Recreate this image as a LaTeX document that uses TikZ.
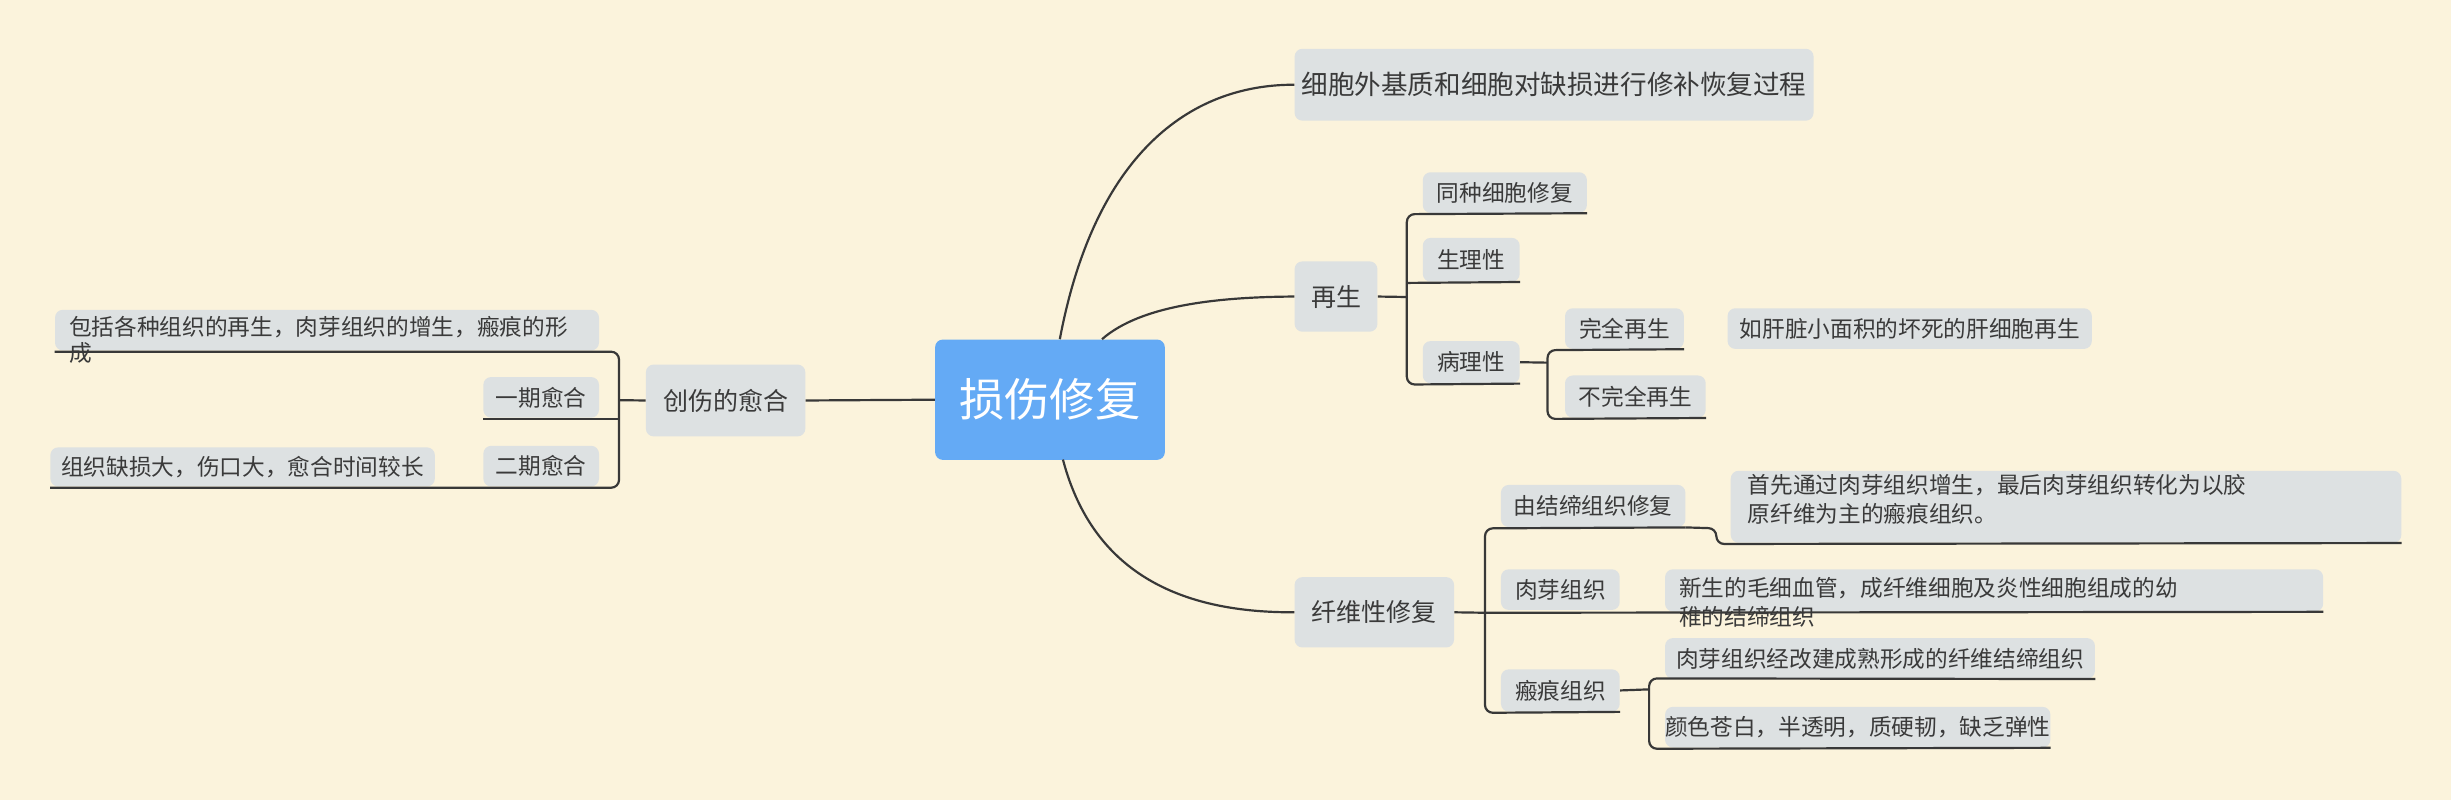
\documentclass[tikz,border=0pt]{standalone}
\usepackage{fontspec}
\setmainfont{Noto Sans CJK SC}
\begin{document}
\begin{tikzpicture}[x=1pt,y=-1pt,
  box/.style={fill=boxgray,rounded corners=5pt,anchor=north west,inner sep=0pt,text=txt,font=\fontsize{14.5}{17}\selectfont},
  ln/.style={draw=lncol,line width=1.4pt,rounded corners=5pt}]
\definecolor{bg}{HTML}{FBF3DC}
\definecolor{boxgray}{HTML}{DDE1E2}
\definecolor{txt}{HTML}{3A3A3A}
\definecolor{lncol}{HTML}{383838}
\definecolor{rootblue}{HTML}{64AAF5}
\fill[bg] (0,0) rectangle (1568,512);
\useasboundingbox (0,0) rectangle (1568,512);
% root
\node[fill=rootblue,rounded corners=5pt,anchor=north west,minimum width=147pt,minimum height=77pt,text=white,font=\fontsize{29}{32}\selectfont] (root) at (598,217) {损伤修复};
% level 1
\node[box,minimum width=332pt,minimum height=46pt,font=\fontsize{17}{20}\selectfont] (top) at (828,31) {细胞外基质和细胞对缺损进行修补恢复过程};
\node[box,minimum width=53pt,minimum height=45pt,font=\fontsize{16}{19}\selectfont] (zs) at (828,167) {再生};
\node[box,minimum width=102pt,minimum height=45pt,font=\fontsize{16}{19}\selectfont] (xw) at (828,369) {纤维性修复};
\node[box,minimum width=102pt,minimum height=46pt,font=\fontsize{16}{19}\selectfont] (cs) at (413,233) {创伤的愈合};
\draw[lncol,line width=1.4pt] (678,217) .. controls (700,100) and (760,54) .. (top.west);
\draw[lncol,line width=1.4pt] (705,217) .. controls (730,195) and (780,190) .. (zs.west);
\draw[lncol,line width=1.4pt] (680,294) .. controls (700,370) and (760,392) .. (xw.west);
\draw[lncol,line width=1.4pt] (root.west) -- (cs.east);
% 再生 children
\node[box,minimum width=105pt,minimum height=26pt] (tz) at (910,110) {同种细胞修复};
\node[box,minimum width=62pt,minimum height=28pt] (sl) at (910,152) {生理性};
\node[box,minimum width=62pt,minimum height=27pt] (bl) at (910,218) {病理性};
\draw[ln] (zs.east) -- (900,190);
\draw[ln] (tz.south east) -- (900,137) -- (900,246) -- (bl.south east);
\draw[ln] (900,181) -- (sl.south east);
\node[box,minimum width=76pt,minimum height=26pt] (wq) at (1001,197) {完全再生};
\node[box,minimum width=233pt,minimum height=26pt] (rg) at (1105,197) {如肝脏小面积的坏死的肝细胞再生};
\node[box,minimum width=90pt,minimum height=27pt] (bwq) at (1001,240) {不完全再生};
\draw[ln] (bl.east) -- (990,232);
\draw[ln] (wq.south east) -- (990,224) -- (990,268) -- (bwq.south east);
% 纤维性修复 children
\node[box,minimum width=118pt,minimum height=27pt] (jd) at (960,310) {由结缔组织修复};
\node[box,minimum width=429pt,minimum height=46pt] (jdc) at (1107,301) {};
\node[anchor=north west,text=txt,font=\fontsize{14.5}{19}\selectfont,align=left,inner sep=0pt] at (1118,303) {首先通过肉芽组织增生，最后肉芽组织转化为以胶\\原纤维为主的瘢痕组织。};
\node[box,minimum width=76pt,minimum height=26pt] (ry) at (960,364) {肉芽组织};
\node[box,minimum width=421pt,minimum height=27pt] (ryc) at (1065,364) {};
\node[anchor=north west,text=txt,font=\fontsize{14.5}{19}\selectfont,align=left,inner sep=0pt] at (1074,369) {新生的毛细血管，成纤维细胞及炎性细胞组成的幼\\稚的结缔组织};
\node[box,minimum width=76pt,minimum height=27pt] (bh) at (960,428) {瘢痕组织};
\node[box,minimum width=275pt,minimum height=26pt] (bh1) at (1065,408) {肉芽组织经改建成熟形成的纤维结缔组织};
\node[box,minimum width=240pt,minimum height=26pt] (bh2) at (1065,452) {颜色苍白，半透明，质硬韧，缺乏弹性};
\draw[ln] (xw.east) -- (950,392);
\draw[ln] (jd.south east) -- (950,338) -- (950,456) -- (bh.south east);
\draw[ln] (jd.south east) -- (1098,338) -- (1098,348) -- (jdc.south east);
\draw[lncol,line width=1.4pt] (950,392) -- (ryc.south east);
\draw[lncol,line width=1.4pt] (bh.east) -- (1055,441);
\draw[ln] (bh1.south east) -- (1055,434) -- (1055,479) -- (bh2.south east);
% 创伤的愈合 children
\node[box,minimum width=348pt,minimum height=26pt] (bk) at (35,198) {};
\node[anchor=north west,text=txt,font=\fontsize{14.5}{17}\selectfont,align=left,inner sep=0pt] at (44,202) {包括各种组织的再生，肉芽组织的增生，瘢痕的形\\成};
\node[box,minimum width=74pt,minimum height=26pt] (yq) at (309,241) {一期愈合};
\node[box,minimum width=74pt,minimum height=26pt] (eq) at (309,285) {二期愈合};
\node[box,minimum width=246pt,minimum height=25pt] (zz) at (32,286) {组织缺损大，伤口大，愈合时间较长};
\draw[ln] (cs.west) -- (396,256);
\draw[ln] (35,225) -- (396,225) -- (396,312) -- (32,312);
\draw[lncol,line width=1.4pt] (396,268) -- (309,268);
\end{tikzpicture}
\end{document}
